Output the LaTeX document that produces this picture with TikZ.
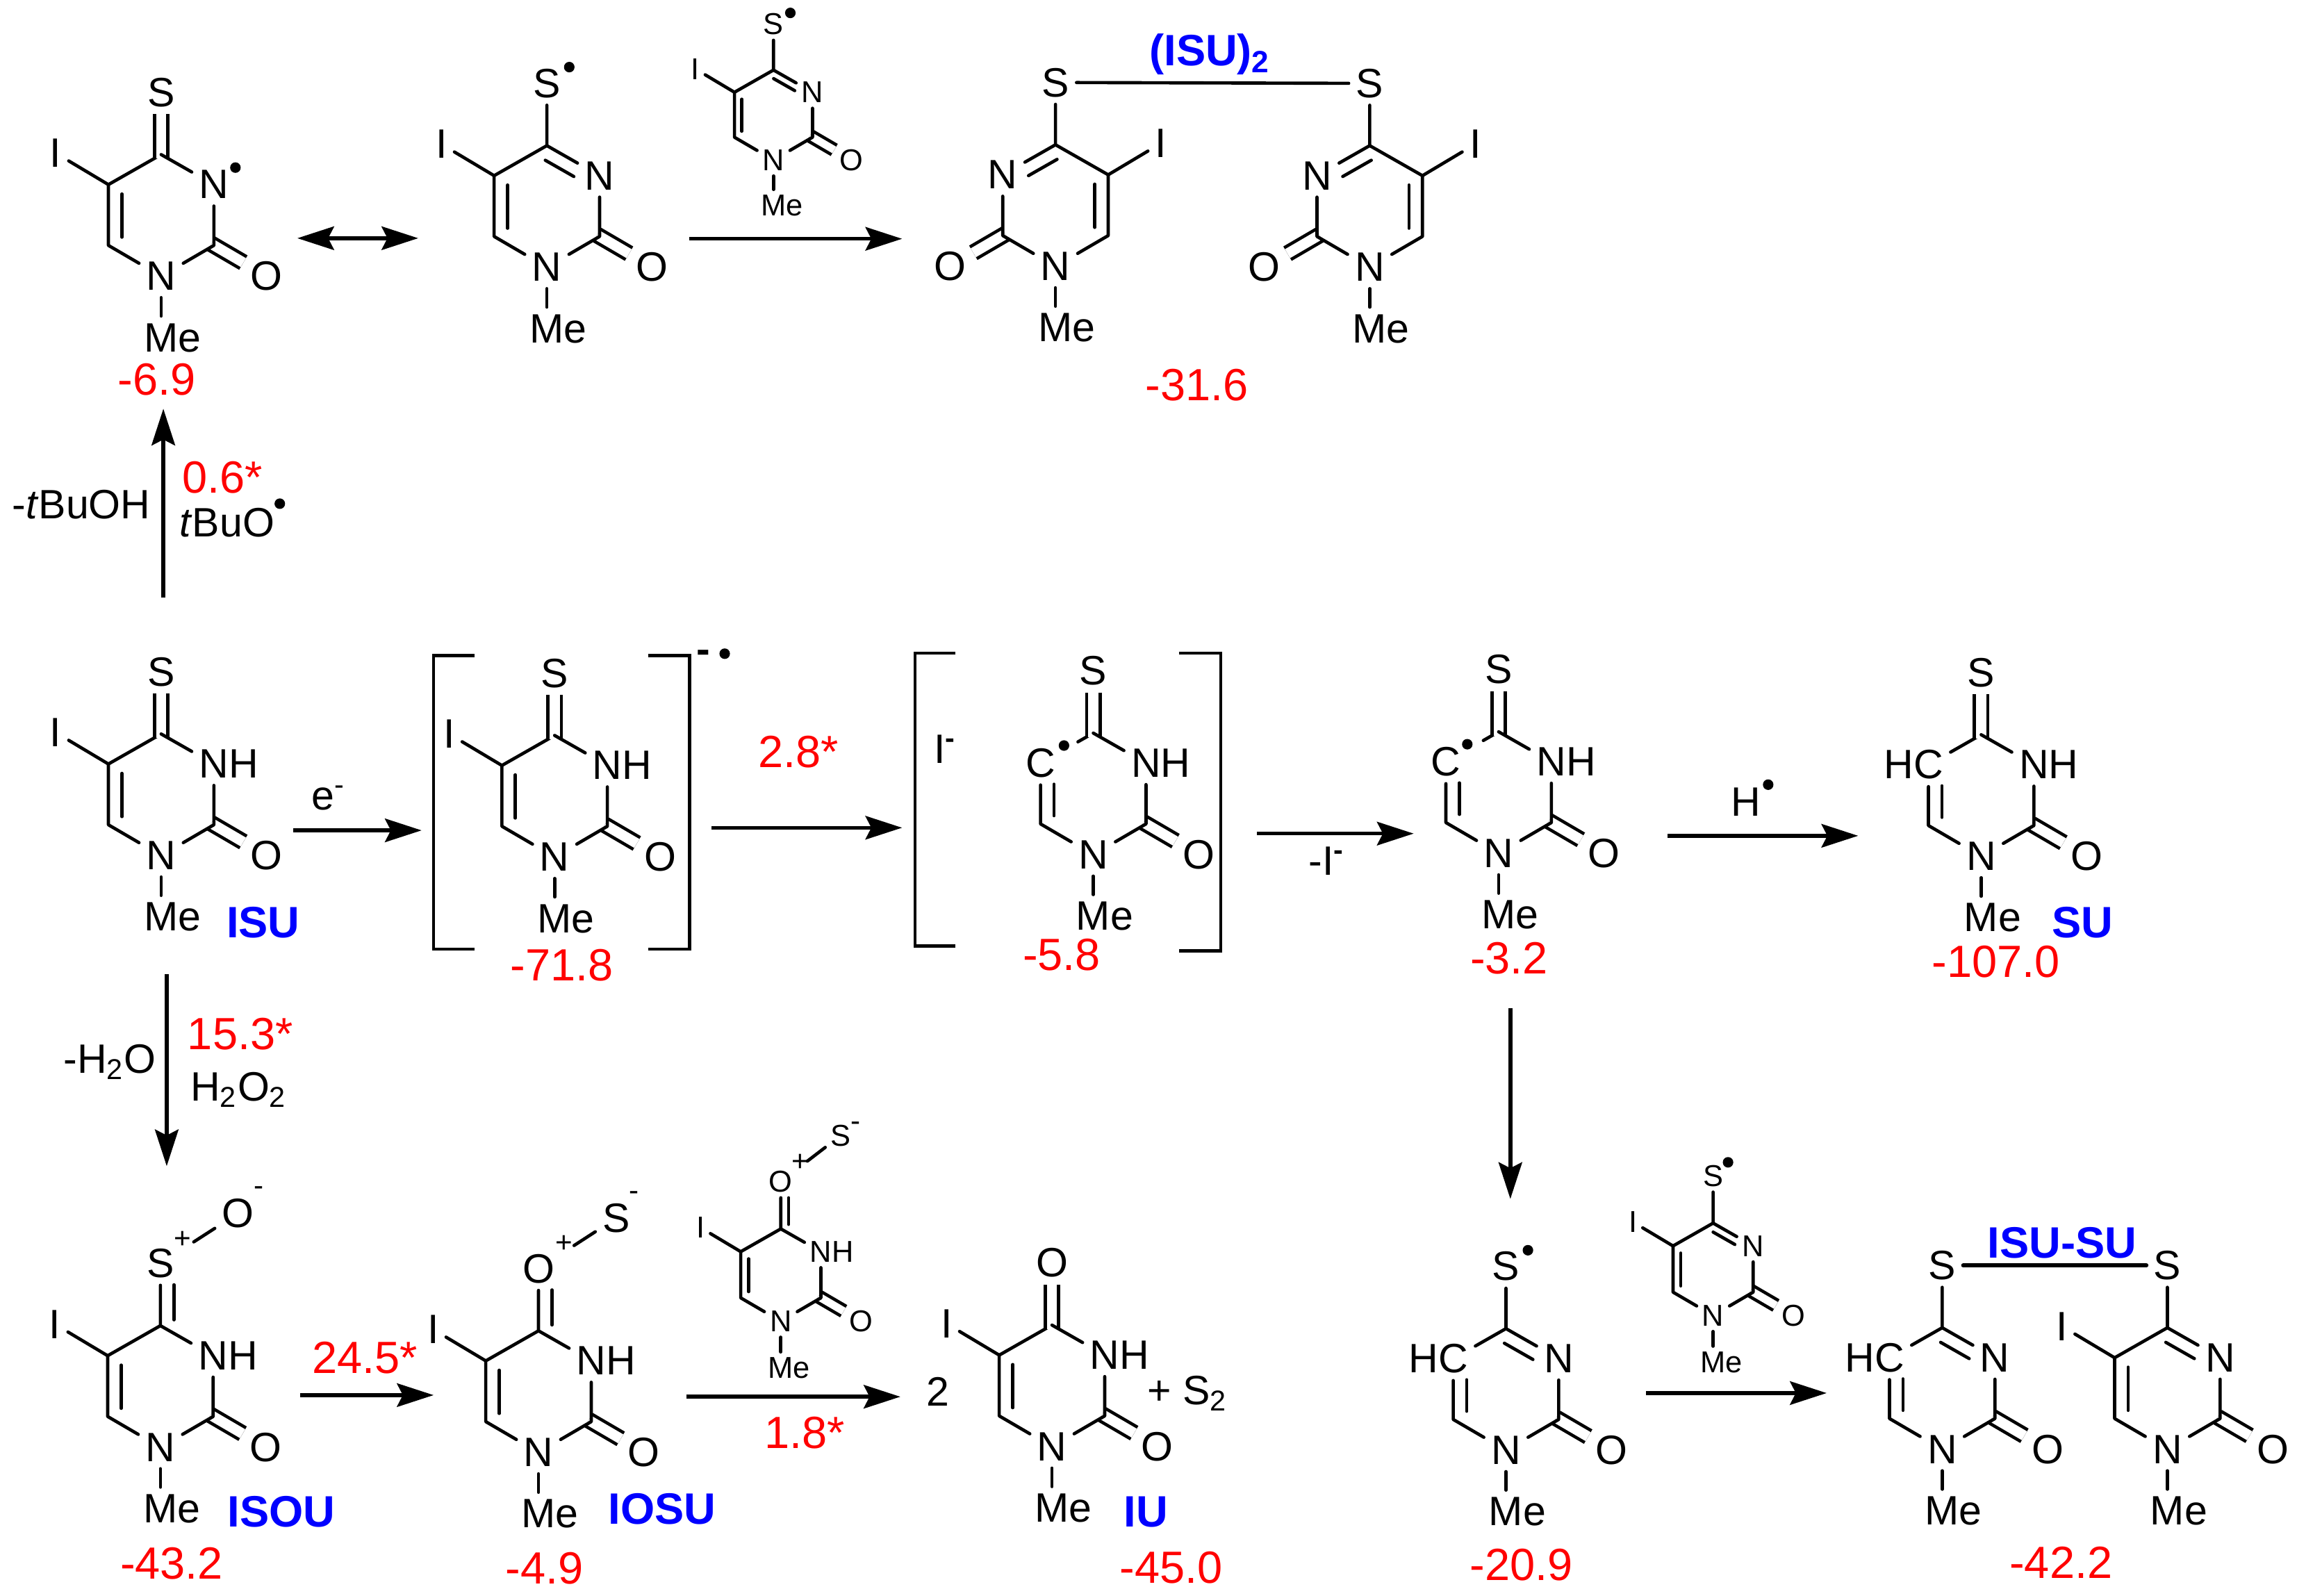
\documentclass[tikz,border=0pt]{standalone}
\usepackage{fontspec}
\usepackage{xcolor}
\setmainfont{Liberation Sans}
\usetikzlibrary{arrows.meta, calc}
\definecolor{valred}{RGB}{255,0,0}
\definecolor{tagblue}{RGB}{0,0,255}
\newcommand{\bigatom}{\fontsize{14}{16}\selectfont}
\newcommand{\smallatom}{\fontsize{10.3}{12}\selectfont}
\tikzset{
    atom/.style={font=\atomfont, inner sep=\atomsep},
    bond/.style={line width=1.1pt, line cap=round, line join=round},
    dbl/.style={double, double distance=\ddist, line width=1.1pt},
    rxn/.style={line width=1.3pt, -{Stealth[length=12.5pt,width=8pt,inset=2pt]}},
    rxnboth/.style={line width=1.3pt, {Stealth[length=12.5pt,width=8pt,inset=2pt]}-{Stealth[length=12.5pt,width=8pt,inset=2pt]}},
    brk/.style={line width=1.1pt},
    raddot/.style={circle, fill, inner sep=0pt, minimum size=3.6pt},
    lab/.style={font=\fontsize{14}{16}\selectfont, inner sep=0pt},
    charge/.style={font=\fontsize{10}{12}\selectfont, inner sep=0pt},
    valtext/.style={font=\fontsize{15.4}{18}\selectfont, text=valred, inner sep=0pt},
    tagtext/.style={font=\fontsize{15}{18}\selectfont\bfseries, text=tagblue, inner sep=0pt}
}
\newcommand{\innerbond}[4]{\draw[bond, shorten <=\rs*#3, shorten >=\rs*#4] ($(#1)!\dbgap!90:(#2)$) -- ($(#2)!\dbgap!-90:(#1)$);}
\newcommand{\topdbl}[1]{
    \node[atom] (\nm x) at (0,-42.5) {#1};
    \draw[dbl, shorten >=-1.4pt] (\nm x) -- (\nm c4);
    \draw[bond] (\nm c4) -- (\nm n3);
}
\newcommand{\topsgl}[1]{
    \node[atom] (\nm x) at (0,-42.5) {#1};
    \draw[bond] (\nm x) -- (\nm c4) -- (\nm n3);
    \innerbond{\nm n3}{\nm c4}{7.5pt}{2pt}
}
\newcommand{\topasym}[1]{
    \node[atom] (\nm x) at (0,-42.5) {#1};
    \draw[bond] (\nm x) -- (\nm c4) -- (\nm n3);
    \innerbond{\nm x}{\nm c4}{7.3pt}{2pt}
}
\newcommand{\ringmol}[7]{
    \begin{scope}[shift={#2}, xscale=#3*#4, yscale=#3]
        \def\nm{#1}
        \def\rs{#3}
        \pgfmathsetlengthmacro{\dbgap}{#3*4.6pt}
        \pgfmathsetlengthmacro{\ddist}{#3*3.5pt}
        \ifdim #3pt<1pt
            \let\atomfont\smallatom \def\atomsep{1.7pt}
        \else
            \let\atomfont\bigatom \def\atomsep{2.3pt}
        \fi
        \def\cfive{#6}\def\cfiveI{I}\def\cfiveC{C}
        \coordinate (\nm c4) at (0,0);
        \coordinate (\nm c6) at (-36,62);
        \coordinate (\nm c2) at (36,62);
        \node[atom] (\nm n1) at (0,83) {N};
        \node[atom] (\nm n3) at (36,20.5) {#5};
        \node[atom] (\nm o) at (72,83) {O};
        \node[atom] (\nm me) at (0,125) {M\rlap{e}};
        \ifx\cfive\cfiveI
            \coordinate (\nm c5) at (-36,20.5);
            \node[atom] (\nm i) at (-72,-1) {I};
            \draw[bond] (\nm i) -- (\nm c5);
            \draw[bond] (\nm c4) -- (\nm c5);
            \innerbond{\nm c5}{\nm c6}{3.2pt}{2.8pt}
        \else
            \node[atom] (\nm c5) at (-36,20.5) {#6};
            \ifx\cfive\cfiveC
                \draw[bond, shorten >=6pt] (\nm c4) -- (\nm c5);
            \else
                \draw[bond] (\nm c4) -- (\nm c5);
            \fi
            \innerbond{\nm c5}{\nm c6}{7.2pt}{2.8pt}
        \fi
        \draw[dbl, shorten <=-1pt] (\nm c2) -- (\nm o);
        #7
        \draw[bond] (\nm c5) -- (\nm c6) -- (\nm n1) -- (\nm c2) -- (\nm n3);
        \draw[bond] (\nm n1) -- (\nm me);
    \end{scope}
}
\begin{document}
\begin{tikzpicture}[x=.5pt, y=-.5pt]
    \useasboundingbox (0,0) rectangle (1568,1089);
    \ringmol{mta}{(110,105.5)}{1}{1}{N}{I}{\topdbl{S}}
    \ringmol{mtb}{(373.3,99.4)}{1}{1}{N}{I}{\topsgl{S}}
    \ringmol{rga}{(528,47.8)}{.74}{1}{N}{I}{\topsgl{S}}
    \ringmol{dma}{(720.5,98.8)}{1}{-1}{N}{I}{\topsgl{S}}
    \ringmol{dmb}{(935,99.4)}{1}{-1}{N}{I}{\topsgl{S}}
    \ringmol{isu}{(110,501)}{1}{1}{N\rlap{H}}{I}{\topdbl{S}}
    \ringmol{anr}{(378.6,502)}{1}{1}{N\rlap{H}}{I}{\topdbl{S}}
    \ringmol{rdb}{(746.3,500.4)}{1}{1}{N\rlap{H}}{C}{\topdbl{S}}
    \ringmol{rdc}{(1023,499.5)}{1}{1}{N\rlap{H}}{C}{\topdbl{S}}
    \ringmol{su}{(1352.4,501.5)}{1}{1}{N\rlap{H}}{\llap{H}C}{\topdbl{S}}
    \ringmol{iso}{(109.5,904.9)}{1}{1}{N\rlap{H}}{I}{\topasym{S}}
    \ringmol{ios}{(367.6,908.4)}{1}{1}{N\rlap{H}}{I}{\topasym{O}}
    \ringmol{rgb}{(533,838.8)}{.76}{1}{N\rlap{H}}{I}{\topasym{O}}
    \ringmol{iu}{(718.1,904.5)}{1}{1}{N\rlap{H}}{I}{\topdbl{O}}
    \ringmol{shc}{(1028,906.9)}{1}{1}{N}{\llap{H}C}{\topsgl{S}}
    \ringmol{rgc}{(1169.4,834.9)}{.76}{1}{N}{I}{\topsgl{S}}
    \ringmol{dmc}{(1325.8,906.3)}{1}{1}{N}{\llap{H}C}{\topsgl{S}}
    \ringmol{dmd}{(1479.5,906.3)}{1}{1}{N}{I}{\topsgl{S}}
    \draw[bond] (dmax) -- (dmbx);
    \draw[bond, line width=1.4pt] (dmcx) -- (dmdx);
    \node[charge] (isoplus) at (124.6,846.2) {+};
    \node[atom, font=\bigatom, inner sep=2.3pt] (isoo) at (162.5,828.2) {O};
    \node[charge] (isominus) at (176.8,813) {-};
    \draw[bond, shorten <=5pt] (isox) -- (isoo);
    \node[charge] (iosplus) at (385,849) {+};
    \node[atom, font=\bigatom, inner sep=2.3pt] (ioss) at (420.7,831.5) {S};
    \node[charge] (iosminus) at (432.9,816.3) {-};
    \draw[bond, shorten <=5pt] (iosx) -- (ioss);
    \node[charge] (rgbplus) at (546.4,793.4) {+};
    \node[atom, font=\smallatom, inner sep=1.7pt] (rgbs) at (574,775) {S};
    \node[charge] (rgbminus) at (584,769) {-};
    \draw[bond, shorten <=4pt] (rgbx) -- (rgbs);
    \foreach \nm/\xa/\ya/\xb/\yb in {
        ra/111.5/408/111.5/279, rc/470.6/163/615.8/163, rd/200.3/566.8/287.8/566.8,
        re/485.7/565/615.8/565, rf/858/569/965/569, rg/1138.4/570.5/1268.4/570.5,
        rh/113.8/665/113.8/796, ri/1031/688/1031/818.4, rj/205/952.3/296/952.3,
        rk/468.4/953.4/614.6/953.4, rl/1123.8/950.9/1246.9/950.9} {
        \coordinate (\nm s) at (\xa,\ya);
        \coordinate (\nm e) at (\xb,\yb);
        \draw[rxn] (\nm s) -- (\nm e);
    }
    \coordinate (rbs) at (203,162.6);
    \coordinate (rbe) at (285.5,162.6);
    \draw[rxnboth] (rbs) -- (rbe);
    \draw[brk] (323.7,447.4) -- (296,447.4) -- (296,647.8) -- (323.7,647.8);
    \draw[brk] (442.5,447.4) -- (470.8,447.4) -- (470.8,647.8) -- (442.5,647.8);
    \draw[brk] (652.3,445.9) -- (624.7,445.9) -- (624.7,645.8) -- (652.3,645.8);
    \draw[brk] (804.7,445.9) -- (833.3,445.9) -- (833.3,649) -- (804.7,649);
    \foreach \nm/\x/\y in {
        mtadot/160.7/114.4, mtbdot/388.6/45.8, rgadot/539.5/8.8, tbodot/191/343.8,
        anrdot/494.7/446.2, rdbdot/726.3/508.9, rdcdot/1001.6/508, hdot/1207/535.6,
        shcdot/1043/853.4, rgcdot/1179.6/793.4} {
        \node[raddot] (\nm) at (\x,\y) {};
    }
    \foreach \nm/\x/\y/\val in {
        va/107/258.8/-6.9, vb/817/262.6/-31.6, vc/383.6/658.8/-71.8, vd/724.7/651.5/-5.8,
        ve/1030.2/654.2/-3.2, vf/1362.6/656.3/-107.0, vg/117.2/1067.3/-43.2,
        vh/371.6/1070.3/-4.9, vi/799.6/1070/-45.0, vj/1038.5/1068/-20.9, vk/1406.9/1066.8/-42.2,
        vl/152/326/0.6*, vm/545/513/2.8*, vn/164/706/15.3*, vo/249/927/24.5*, vp/549.3/978/1.8*} {
        \node[valtext] (\nm) at (\x,\y) {\val};
    }
    \foreach \nm/\x/\y/\tagname in {
        tga/179.7/629.5/ISU, tgb/1421.7/629.5/SU, tgc/192/1032/ISOU, tgd/452.1/1030/IOSU,
        tge/782.2/1032/IU, tgf/1407.7/848.2/ISU-SU} {
        \node[tagtext] (\nm) at (\x,\y) {\tagname};
    }
    \node[tagtext] (tgdim) at (826,37) {(ISU)\textsubscript{2}};
    \node[lab] (lba) at (55.5,344.6) {-\textit{t}BuOH};
    \node[lab] (lbb) at (155,356.8) {\textit{t}BuO};
    \node[lab] (lbc) at (220.6,544.5) {e\rlap{\textsuperscript{-}}};
    \node[lab, font=\fontsize{14}{16}\selectfont\bfseries] (lbd) at (480,448) {-};
    \node[lab] (lbe) at (641.5,511.4) {I\rlap{\textsuperscript{\bfseries-}}};
    \node[lab] (lbf) at (906.7,587.6) {\llap{-}I\rlap{\textsuperscript{\bfseries-}}};
    \node[lab] (lbg) at (1191.8,547.5) {H};
    \node[lab] (lbh) at (75,725) {-H\textsubscript{2}O};
    \node[lab] (lbi) at (163,744) {H\textsubscript{2}O\textsubscript{2}};
    \node[lab] (lbj) at (640.4,950) {2};
    \node[lab] (lbk) at (810.5,951) {+ S\textsubscript{2}};
\end{tikzpicture}
\end{document}
